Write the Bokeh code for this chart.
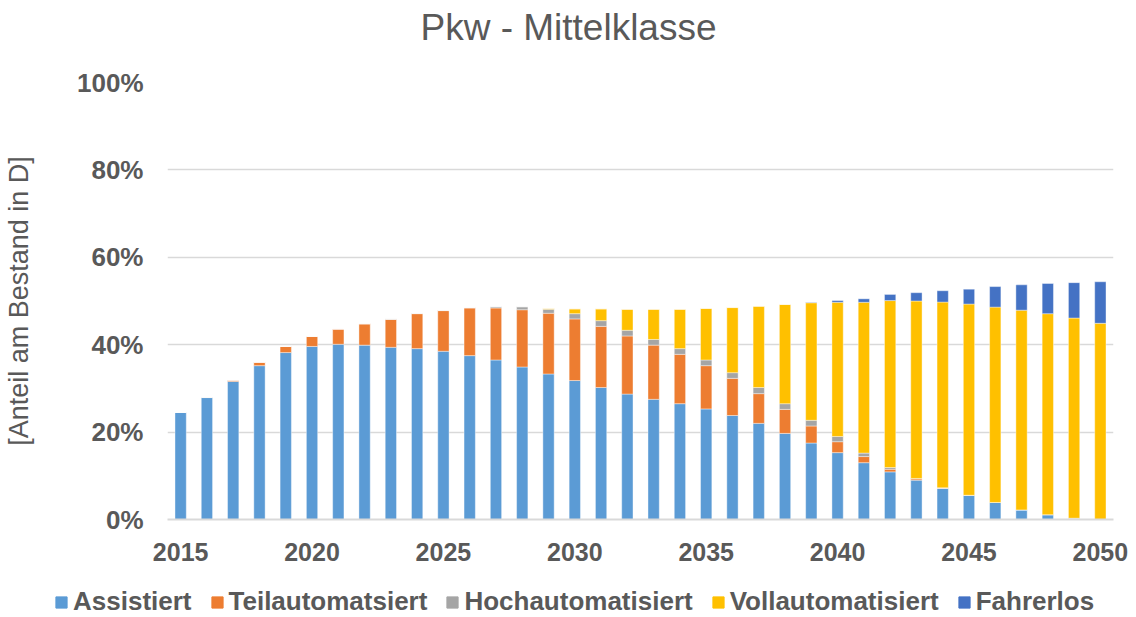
from bokeh.plotting import figure
from bokeh.models import ColumnDataSource, FixedTicker, Legend, LegendItem, Label
from bokeh.embed import file_html
from bokeh.resources import INLINE

years = list(range(2015, 2051))
assistiert = [24.5, 27.9, 31.6, 35.2, 38.2, 39.6, 40.1, 39.9, 39.4, 39.1, 38.5, 37.5,
              36.5, 34.9, 33.3, 31.8, 30.2, 28.7, 27.5, 26.5, 25.3, 23.8, 22.0, 19.7,
              17.5, 15.3, 13.0, 10.9, 9.0, 7.1, 5.5, 3.9, 2.2, 1.1, 0.3, 0.0]
teilautomatisiert = [0.0, 0.1, 0.3, 0.8, 1.4, 2.3, 3.5, 4.9, 6.4, 8.0, 9.3, 10.9,
                     11.9, 13.1, 13.9, 14.1, 14.0, 13.3, 12.4, 11.3, 9.9, 8.5, 6.8, 5.5,
                     3.9, 2.5, 1.4, 0.6, 0.3, 0.1, 0.05, 0.0, 0.0, 0.0, 0.0, 0.0]
hochautomatisiert = [0.0, 0.0, 0.0, 0.0, 0.0, 0.0, 0.0, 0.0, 0.1, 0.1, 0.1, 0.1,
                     0.3, 0.7, 0.9, 1.2, 1.3, 1.3, 1.3, 1.3, 1.3, 1.3, 1.4, 1.3,
                     1.3, 1.2, 0.8, 0.4, 0.1, 0.05, 0.0, 0.0, 0.0, 0.0, 0.0, 0.0]
vollautomatisiert = [0.0, 0.0, 0.0, 0.0, 0.0, 0.0, 0.0, 0.0, 0.0, 0.0, 0.0, 0.0,
                     0.0, 0.0, 0.2, 1.1, 2.7, 4.8, 6.9, 9.0, 11.8, 14.9, 18.6, 22.7,
                     26.9, 30.7, 34.5, 38.2, 40.6, 42.5, 43.75, 44.7, 45.7, 46.0, 45.8, 44.9]
fahrerlos = [0.0, 0.0, 0.0, 0.0, 0.0, 0.0, 0.0, 0.0, 0.0, 0.0, 0.0, 0.0,
             0.0, 0.0, 0.0, 0.0, 0.0, 0.0, 0.0, 0.0, 0.0, 0.0, 0.0, 0.0,
             0.1, 0.4, 0.8, 1.4, 1.9, 2.6, 3.4, 4.7, 5.8, 6.9, 8.1, 9.5]

title_text = "Pkw - Mittelklasse"
y_axis_title = "[Anteil am Bestand in D]"
series_names = ["Assistiert", "Teilautomatsiert", "Hochautomatisiert", "Vollautomatisiert", "Fahrerlos"]
colors = ["#5B9BD5", "#ED7D31", "#A5A5A5", "#FFC000", "#4472C4"]
x_ticks = [2015, 2020, 2025, 2030, 2035, 2040, 2045, 2050]
y_ticks = [0, 20, 40, 60, 80, 100]
y_tick_labels = ["0%", "20%", "40%", "60%", "80%", "100%"]

keys = ["a", "t", "h", "v", "f"]
source = ColumnDataSource(dict(year=years, a=assistiert, t=teilautomatisiert,
                               h=hochautomatisiert, v=vollautomatisiert, f=fahrerlos))

FONT = "Liberation Sans"
GRAY = "#595959"

W = 1136
TITLE_H = 54
MAIN_H = 521
LEG_H = 42
FRAME_TOP = 82 - TITLE_H
FRAME_BOTTOM = 519 - TITLE_H

# title strip (frame spans the whole strip)
tt = figure(width=W, height=TITLE_H, output_backend="svg", toolbar_location=None,
            x_range=(0, W), y_range=(0, TITLE_H), x_axis_location=None, y_axis_location=None,
            min_border_left=0, min_border_right=0, min_border_top=0, min_border_bottom=0)
tt.grid.visible = False
tt.outline_line_color = None
tt.add_layout(Label(x=W / 2, y=TITLE_H - 27, text=title_text, text_align="center",
                    text_baseline="middle", text_font=FONT, text_font_size="37px",
                    text_color=GRAY))

p = figure(width=W, height=MAIN_H, output_backend="svg", toolbar_location=None,
           x_range=(2014.5, 2050.5), y_range=(0, 100),
           min_border_left=167, min_border_right=W - 1113, min_border_top=FRAME_TOP,
           min_border_bottom=MAIN_H - FRAME_BOTTOM)

renderers = p.vbar_stack(keys, x="year", width=0.43, source=source, color=colors,
                         line_color="white", line_alpha=0.5, line_width=0.8)

p.outline_line_color = None
p.xgrid.grid_line_color = None
p.ygrid.grid_line_color = "#D9D9D9"
p.ygrid.grid_line_width = 1.5
p.ygrid.ticker = FixedTicker(ticks=y_ticks)

p.xaxis.ticker = FixedTicker(ticks=x_ticks)
p.xaxis.axis_line_color = "#D9D9D9"
p.xaxis.axis_line_width = 2
p.xaxis.major_tick_line_color = None
p.xaxis.minor_tick_line_color = None
p.xaxis.major_tick_out = 0
p.xaxis.major_label_text_font = FONT
p.xaxis.major_label_text_font_size = "25px"
p.xaxis.major_label_text_font_style = "bold"
p.xaxis.major_label_text_color = GRAY
p.xaxis.major_label_standoff = 23

p.yaxis.ticker = FixedTicker(ticks=y_ticks)
p.yaxis.major_label_overrides = {t: l for t, l in zip(y_ticks, y_tick_labels)}
p.yaxis.axis_line_color = None
p.yaxis.major_tick_line_color = None
p.yaxis.minor_tick_line_color = None
p.yaxis.major_tick_out = 0
p.yaxis.major_label_text_font = FONT
p.yaxis.major_label_text_font_size = "26px"
p.yaxis.major_label_text_font_style = "bold"
p.yaxis.major_label_text_color = GRAY
p.yaxis.major_label_standoff = 24
p.yaxis.axis_label = y_axis_title
p.yaxis.axis_label_text_font = FONT
p.yaxis.axis_label_text_font_size = "27px"
p.yaxis.axis_label_text_font_style = "normal"
p.yaxis.axis_label_text_color = GRAY
p.yaxis.axis_label_standoff = 40

# legend strip: a separate root below the chart (frame spans the whole strip)
lg = figure(width=W, height=LEG_H, output_backend="svg", toolbar_location=None,
            x_range=(0, 1), y_range=(0, 1), x_axis_location=None, y_axis_location=None,
            min_border_left=0, min_border_right=0, min_border_top=0, min_border_bottom=0)
lg.grid.visible = False
lg.outline_line_color = None
swatches = [lg.vbar(x=[10], top=[10], bottom=[9], width=0.5, color=c) for c in colors]
items = [LegendItem(label=n, renderers=[r]) for n, r in zip(series_names, swatches)]
legend = Legend(items=items, orientation="horizontal", location=(54, 0),
                label_text_font=FONT, label_text_font_size="26px",
                label_text_font_style="bold", label_text_color=GRAY,
                glyph_width=14, glyph_height=14, spacing=18, label_standoff=5,
                border_line_color=None, background_fill_alpha=0, padding=0, margin=0)
lg.add_layout(legend, "center")

open("out.html", "w").write(file_html([tt, p, lg], INLINE))
